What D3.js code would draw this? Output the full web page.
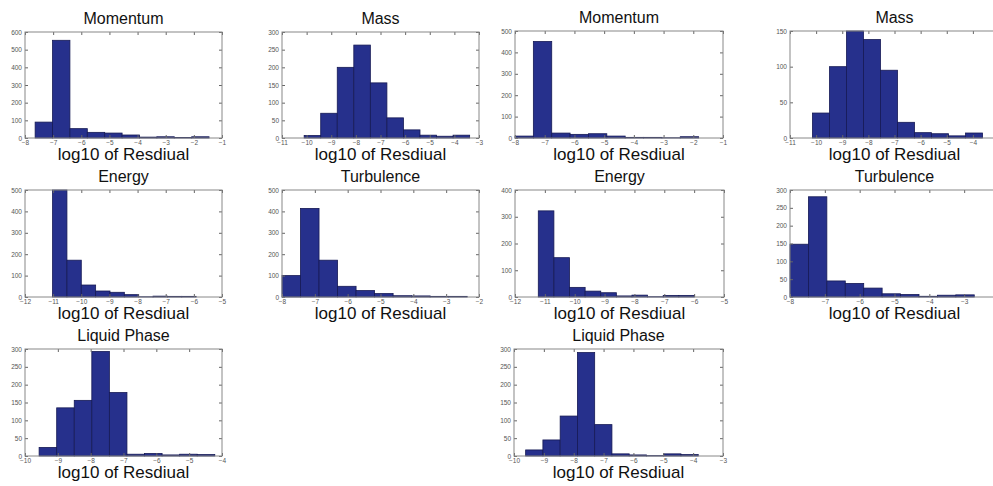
<!DOCTYPE html>
<html>
<head>
<meta charset="utf-8">
<script src="https://cdn.jsdelivr.net/npm/d3@7"></script>
<style>
  body { margin: 0; background: #fff; }
  svg { display: block; font-family: "Liberation Sans", Arial, sans-serif; }
</style>
</head>
<body>
<div id="chart"></div>
<script>
// panel titles, left figure then right figure, row by row
const titles = ["Momentum", "Mass", "Momentum", "Mass",
                "Energy", "Turbulence", "Energy", "Turbulence",
                "Liquid Phase", "Liquid Phase"];

// axis limits for each panel
const xDomains = [[-8, -1], [-11, -3], [-8, -1], [-11, -3],
                  [-12, -5], [-8, -2], [-12, -5], [-8, -2],
                  [-10, -4], [-10, -3]];
const yMax = [600, 300, 500, 150, 500, 500, 400, 300, 300, 300];
const yStep = [100, 50, 100, 50, 100, 100, 100, 50, 50, 50];

// first and last edge of the 10 histogram bins
const binRanges = [[-7.64, -1.46], [-10.1, -3.38], [-8.0, -1.82], [-10.14, -3.63],
                   [-11.02, -5.92], [-8.0, -2.36], [-11.22, -5.99], [-8.0, -2.71],
                   [-9.57, -4.22], [-9.61, -3.83]];

// counts per bin
const momentumA   = [90, 553, 53, 32, 28, 17, 5, 7, 3, 7];
const massA       = [7, 70, 200, 263, 156, 57, 23, 8, 5, 8];
const momentumB   = [9, 451, 23, 17, 20, 9, 3, 3, 1, 6];
const massB       = [35, 100, 150, 138, 95, 22, 7.5, 6, 3, 7];
const energyA     = [500, 172, 56, 28, 22, 11, 1, 4, 3, 3];
const turbulenceA = [100, 414, 172, 50, 30, 16, 6, 5, 3, 3];
const energyB     = [322, 147, 36, 22, 16, 4, 7, 1, 6, 6];
const turbulenceB = [148, 281, 45, 38, 25, 9, 7, 2, 5, 6];
const liquidA     = [24, 135, 156, 293, 178, 5, 7, 3, 5, 4];
const liquidB     = [17, 45, 112, 290, 88, 6, 3, 1, 6, 4];

const countsList = [momentumA, massA, momentumB, massB, energyA, turbulenceA,
                    energyB, turbulenceB, liquidA, liquidB];

// panel boxes: [left, top, width, height]
const boxes = [
  [25, 32, 197, 106], [282, 32, 197, 106], [515, 31, 208, 107], [790, 31, 209, 107],
  [25, 190, 197, 107], [282, 190, 197, 107], [515, 190, 209, 107], [790, 190, 209, 107],
  [25, 349, 197, 107], [514, 349, 209, 107]
];

const svg = d3.select('#chart')
  .append('svg')
  .attr('width', 993)
  .attr('height', 486);

svg.append('rect').attr('width', 993).attr('height', 486).attr('fill', '#fff');

const fmt = d3.format('d');

titles.forEach((title, i) => {
  const [left, top, w, h] = boxes[i];
  const g = svg.append('g').attr('transform', `translate(${left}, ${top})`);

  const x = d3.scaleLinear().domain(xDomains[i]).range([0, w]);
  const y = d3.scaleLinear().domain([0, yMax[i]]).range([h, 0]);

  const [lo, hi] = binRanges[i];
  const step = (hi - lo) / 10;
  const bins = countsList[i].map((c, k) => ({ x0: lo + k * step, x1: lo + (k + 1) * step, c }));

  const xt = d3.range(xDomains[i][0], xDomains[i][1] + 1);
  const yt = d3.range(0, yMax[i] + 1, yStep[i]);

  // bars
  g.selectAll('rect.bar')
    .data(bins)
    .enter()
    .append('rect')
    .attr('class', 'bar')
    .attr('x', d => x(d.x0))
    .attr('width', d => x(d.x1) - x(d.x0))
    .attr('y', d => y(d.c))
    .attr('height', d => h - y(d.c))
    .attr('fill', '#26308c')
    .attr('stroke', '#161a55')
    .attr('stroke-width', 0.8);

  // axes, ticks pointing inward like matlab
  const xAxisGroup = g.append('g').attr('transform', `translate(0, ${h})`)
    .call(d3.axisBottom(x).tickValues(xt).tickSize(-3).tickSizeOuter(0).tickPadding(2).tickFormat(fmt));
  const yAxisGroup = g.append('g')
    .call(d3.axisLeft(y).tickValues(yt).tickSize(-3).tickSizeOuter(0).tickPadding(3).tickFormat(fmt));
  const topGroup = g.append('g')
    .call(d3.axisTop(x).tickValues(xt).tickSize(-3).tickSizeOuter(0).tickFormat(''));
  const rightGroup = g.append('g').attr('transform', `translate(${w}, 0)`)
    .call(d3.axisRight(y).tickValues(yt).tickSize(-3).tickSizeOuter(0).tickFormat(''));

  [xAxisGroup, yAxisGroup, topGroup, rightGroup].forEach(a => {
    a.select('path.domain').remove();
    a.selectAll('line').attr('stroke', '#666');
    a.selectAll('text').attr('fill', '#555').attr('font-size', 6.5);
  });

  // box
  g.append('rect')
    .attr('width', w)
    .attr('height', h)
    .attr('fill', 'none')
    .attr('stroke', '#888')
    .attr('stroke-width', 1);

  g.append('text')
    .attr('x', w / 2)
    .attr('y', -8)
    .attr('text-anchor', 'middle')
    .attr('font-size', 16)
    .attr('fill', '#111')
    .text(title);

  g.append('text')
    .attr('x', w / 2)
    .attr('y', h + 22)
    .attr('text-anchor', 'middle')
    .attr('font-size', 17)
    .attr('fill', '#111')
    .text('log10 of Resdiual');
});
</script>
</body>
</html>
